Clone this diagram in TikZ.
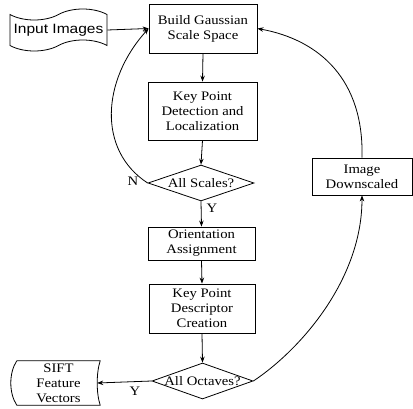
\documentclass[tikz,border=0pt]{standalone}
\usepackage{fontspec}
\setmainfont{Liberation Serif}[FakeStretch=1.13]
\newfontfamily\arialf{Liberation Sans}[FakeStretch=1.15]
\usetikzlibrary{shapes.geometric,shapes.symbols,arrows.meta}
\begin{document}
\begin{tikzpicture}[x=1pt,y=-1pt,
  every node/.style={font=\fontsize{13}{15}\selectfont},
  box/.style={draw,line width=0.8pt,rectangle,inner sep=0pt,align=center},
  dia/.style={draw,line width=0.8pt,diamond,inner sep=0pt},
  conn/.style={line width=0.8pt,-{Stealth[length=6pt,width=4.5pt]}},
  lbl/.style={inner sep=0pt}]
\useasboundingbox (0,0) rectangle (413,409);
\node[draw,line width=0.8pt,tape,tape bend height=11pt,minimum width=97pt,minimum height=42pt,inner sep=0pt,font=\arialf\fontsize{13.5}{15}\selectfont] (inp) at (58.5,30) {Input Images};
\node[box,minimum width=108pt,minimum height=49pt] (build) at (203,28.5) {Build Gaussian\\Scale Space};
\node[box,minimum width=109pt,minimum height=58pt] (kpd) at (202.5,111) {Key Point\\Detection and\\Localization};
\node[dia,minimum width=106pt,minimum height=36pt,label={center:All Scales?}] (scales) at (201,183) {};
\node[box,minimum width=107pt,minimum height=33pt] (orient) at (201.5,243.5) {Orientation\\Assignment};
\node[box,minimum width=106pt,minimum height=49pt] (desc) at (202,308.5) {Key Point\\Descriptor\\Creation};
\node[dia,minimum width=101pt,minimum height=36pt,label={center:All Octaves?}] (oct) at (202.5,381) {};
\node[box,minimum width=100pt,minimum height=37pt] (down) at (362,176.5) {Image\\Downscaled};
\node[inner sep=0pt,minimum width=83pt,minimum height=44pt,align=center] (sift) at (58.5,383) {SIFT\\Feature\\Vectors};
\draw[line width=0.8pt] (sift.north west) -- (sift.north east) .. controls +(-4,12) and +(-4,-12) .. (sift.south east) -- (sift.south west) .. controls +(-8,-12) and +(-8,12) .. (sift.north west);
\node[lbl] (n) at (133,181) {N};
\node[lbl] (y1) at (212,208) {Y};
\node[lbl] (y2) at (135,391) {Y};
\draw[conn] (inp.east) -- (build.west);
\draw[conn] (build.south) -- (kpd.north);
\draw[conn] (kpd.south) -- (scales.north);
\draw[conn] (scales.south) -- (orient.north);
\draw[conn] (orient.south) -- (desc.north);
\draw[conn] (desc.south) -- (oct.north);
\draw[conn] (oct.west) -- ([xshift=-3pt]sift.east);
\draw[conn] (scales.west) .. controls (97,150) and (102,80) .. (build.west);
\draw[conn] (oct.east) .. controls (300,350) and (362,280) .. (down.south);
\draw[conn] (down.north) .. controls (364,80) and (320,40) .. (build.east);
\end{tikzpicture}
\end{document}
